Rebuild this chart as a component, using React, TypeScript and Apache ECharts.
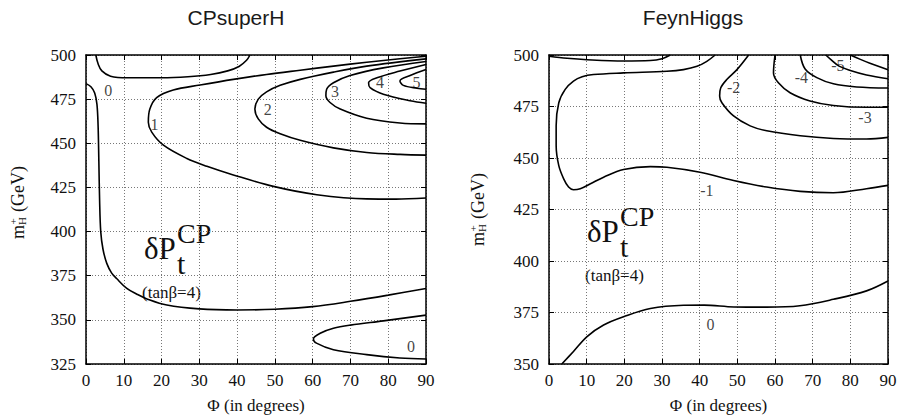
import React, { useEffect, useRef } from "react";
import * as echarts from "echarts";

const SERIF = "'Liberation Serif', 'Times New Roman', serif";
const SANS = "'Liberation Sans', Arial, sans-serif";

// ---- Axis ranges / ticks ----
const phiMin = 0;
const phiMax = 90;
const phiStep = 10;
const leftMassMin = 325;
const rightMassMin = 350;
const massMax = 500;
const massStep = 25;
const panelTitles = ["CPsuperH", "FeynHiggs"];
const xTitle = "Φ (in degrees)";

// ---- CPsuperH contours [phi, mH+] ----
const cpZeroTop = [[2.6,500],[3.2,495],[4.2,491],[6.5,488],[11,487.1],[20,487.1],[27,487.7],[33,489],[37.5,491],[40.5,493.5],[42.5,497],[43.4,500]];
const cpZeroLeft = [[0,483.8],[1.3,482],[2.3,478.5],[2.9,472],[3.2,460],[3.4,440],[3.6,418],[3.9,400],[4.5,390],[5.5,382],[6.8,376.5],[8.1,373.4],[10.8,367.8],[13.5,364.5],[16,362],[21.4,358.4],[30,356.2],[40,355.6],[50,356],[60,357.5],[70,360.5],[80,364],[90,367.8]];
const cpZeroBottom = [[90,352.7],[78.7,349.4],[70,347],[65.5,345.2],[62,342.4],[60.2,339.2],[61,336.8],[65.5,333.1],[74.3,330.3],[83.1,328.4],[90,327.8]];
const cpOne = [[90,499.3],[83.1,497.9],[74.3,495.9],[65.5,493.7],[56.7,491.4],[47.8,489],[39,486.2],[30.2,483],[23.1,480.2],[18.7,475.9],[16.9,469.4],[16.5,461.9],[17.4,456.3],[20.5,448.9],[26.7,441.4],[32,437],[39,432.1],[49.6,425.6],[61.1,420.9],[74.3,418.5],[82,418.4],[90,419]];
const cpTwo = [[90,497.8],[74.3,493.7],[65.5,490.3],[56.7,486.2],[51.4,482.8],[47.8,479.1],[45.6,475],[44.7,469.4],[45.6,463.8],[47.8,459.1],[51.4,455.4],[56.7,451.7],[65.5,447.4],[74.3,444.8],[83.1,443.7],[90,443.3]];
const cpThree = [[90,496.3],[78.7,492.7],[69.9,488.4],[65.5,484.3],[63.7,480.6],[63.5,476.9],[64.6,473.1],[67.3,469.4],[74.3,464.2],[83.1,461.5],[90,461]];
const cpFour = [[90,494.6],[83.1,490.9],[77,487.1],[74.8,484.3],[75.2,481.5],[78.7,477.8],[85.8,474.1],[90,472.7]];
const cpFive = [[90,491.8],[85.8,488.4],[83.1,485.3],[84,482.8],[87.6,481.2],[90,480.6]];
const cpLabels = [[5.9,479.7,"0"],[18.1,460.4,"1"],[48.1,469.4,"2"],[65.9,479.1,"3"],[77.8,484.7,"4"],[87.5,484.3,"5"],[86,334.9,"0"]];

// ---- FeynHiggs contours [phi, mH+] ----
const fhTopEdge = [[0,499.4],[4.8,498.4],[10.1,497.7],[19.8,497.1],[26.9,497.3],[30,498.2],[32.2,500]];
const fhMinusOne = [[44.1,500],[41.9,496.9],[39.3,494.5],[35.7,492.9],[31.3,492.1],[19.8,491.3],[11.8,490.5],[8.8,489.4],[6.5,487.3],[4.3,483.3],[2.6,476.8],[1.9,465.6],[1.9,456],[2.6,446.3],[3.9,439.9],[5.2,435.9],[6.5,434.6],[8.3,435.1],[11,437.5],[14.5,440.7],[19.8,444.4],[26.9,445.8],[31.3,445.5],[40.1,443.1],[49,439.1],[57.8,435.9],[66.7,433.8],[75.5,433.1],[84.3,435.1],[90,436.7]];
const fhMinusTwo = [[53,500],[49.9,492.9],[47.2,488.1],[45.6,484.1],[45.3,480.1],[45.9,476.8],[49,470.4],[53.4,465.6],[57.8,463.2],[66.7,460.8],[75.5,459.5],[84.3,459.2],[90,460]];
const fhMinusThree = [[60,500],[59.6,491.3],[60.9,486.5],[64,481.7],[69.3,477.7],[75.5,475.5],[84.3,474.6],[90,474.6]];
const fhMinusFour = [[66.7,500],[68,493.2],[71.1,489],[75.5,486],[81.7,484.5],[90,484]];
const fhMinusFive = [[73.5,500],[75,497.5],[77,494.6],[80,492.5],[84.3,490.3],[90,488.5]];
const fhMinusSix = [[80,500],[82.5,498],[85.2,496],[90,492.8]];
const fhZero = [[3.4,350],[6.5,356.1],[10.1,363.3],[14.5,368.9],[19.8,372.9],[26.9,376.9],[35.7,378.5],[41.2,378.6],[49.1,377.7],[57.8,377.6],[66.6,378.3],[75.5,381.4],[84.3,385.5],[90,390.3]];
const fhLabels = [[41.9,434.2,"-1"],[49,484.1,"-2"],[83.9,469.6,"-3"],[67,489,"-4"],[76.7,494.7,"-5"],[42.9,369.2,"0"]];

const leftContours = [cpZeroTop, cpZeroLeft, cpZeroBottom, cpOne, cpTwo, cpThree, cpFour, cpFive];
const rightContours = [fhTopEdge, fhMinusOne, fhMinusTwo, fhMinusThree, fhMinusFour, fhMinusFive, fhMinusSix, fhZero];

function xAxes(gi: number) {
  const common = {
    gridIndex: gi, type: "value", min: phiMin, max: phiMax, interval: phiStep,
    axisLine: { show: true, onZero: false, lineStyle: { color: "#000", width: 1.5 } },
    axisTick: { show: true, inside: true, length: 5, lineStyle: { color: "#000", width: 1 } },
  };
  return [
    {
      ...common, position: "bottom",
      axisLabel: { fontFamily: SERIF, fontSize: 17, color: "#111", margin: 8 },
      splitLine: { show: true, lineStyle: { type: [1, 2], color: "#777", width: 1 } },
      name: xTitle, nameLocation: "middle", nameGap: 33,
      nameTextStyle: { fontFamily: SERIF, fontSize: 17, color: "#111" },
    },
    { ...common, position: "top", axisLabel: { show: false }, splitLine: { show: false } },
  ];
}

function yAxes(gi: number, min: number) {
  const common = {
    gridIndex: gi, type: "value", min, max: massMax, interval: massStep,
    axisLine: { show: true, onZero: false, lineStyle: { color: "#000", width: 1.5 } },
    axisTick: { show: true, inside: true, length: 5, lineStyle: { color: "#000", width: 1 } },
  };
  return [
    {
      ...common, position: "left",
      axisLabel: { fontFamily: SERIF, fontSize: 17, color: "#111", margin: 10 },
      splitLine: { show: true, lineStyle: { type: [1, 2], color: "#777", width: 1 } },
    },
    { ...common, position: "right", axisLabel: { show: false }, splitLine: { show: false } },
  ];
}

function lineSeries(data: number[][], axisIdx: number) {
  return {
    type: "line", xAxisIndex: axisIdx, yAxisIndex: axisIdx, data,
    showSymbol: false, symbol: "none", smooth: 0.35, clip: true,
    lineStyle: { color: "#000", width: 1.6 }, silent: true,
  };
}

function labelSeries(data: any[], axisIdx: number) {
  return {
    type: "scatter", xAxisIndex: axisIdx, yAxisIndex: axisIdx, data,
    symbolSize: 1, itemStyle: { color: "rgba(0,0,0,0)" }, silent: true,
    label: {
      show: true, position: "inside", formatter: (p: any) => p.data[2],
      fontFamily: SERIF, fontSize: 16, color: "#111",
    },
  };
}

function yTitle(x: number, y: number) {
  return {
    type: "group", x, y, rotation: Math.PI / 2,
    children: [
      { type: "text", x: -38, y: -6, style: { text: "m", font: `18px ${SERIF}`, fill: "#111", align: "left", verticalAlign: "middle" } },
      { type: "text", x: -24, y: -2, style: { text: "H", font: `11px ${SERIF}`, fill: "#111", align: "left", verticalAlign: "middle" } },
      { type: "text", x: -23.5, y: -11, style: { text: "+", font: `11px ${SERIF}`, fill: "#111", align: "left", verticalAlign: "middle" } },
      { type: "text", x: -11, y: -6, style: { text: "(GeV)", font: `18px ${SERIF}`, fill: "#111", align: "left", verticalAlign: "middle" } },
    ],
  };
}

function deltaLabel(x: number, y: number) {
  return {
    type: "group", x, y,
    children: [
      { type: "text", x: 0, y: -10.5, style: { text: "δP", font: `31px ${SERIF}`, fill: "#111", align: "left", verticalAlign: "middle" } },
      { type: "text", x: 33, y: -25.2, style: { text: "CP", font: `28px ${SERIF}`, fill: "#111", align: "left", verticalAlign: "middle" } },
      { type: "text", x: 33, y: 4, style: { text: "t", font: `30px ${SERIF}`, fill: "#111", align: "left", verticalAlign: "middle" } },
      { type: "text", x: -2, y: 33, style: { text: "(tanβ=4)", font: `17px ${SERIF}`, fill: "#111", align: "left", verticalAlign: "middle" } },
    ],
  };
}

export default function App() {
  const ref = useRef<HTMLDivElement>(null);
  useEffect(() => {
    const chart = echarts.init(ref.current!, null, { renderer: "svg" });
    const option: any = {
      animation: false,
      backgroundColor: "#fff",
      grid: [
        { left: 86, right: 474, top: 55, bottom: 53, containLabel: false },
        { left: 549, right: 12, top: 55, bottom: 53, containLabel: false },
      ],
      xAxis: [...xAxes(0), ...xAxes(1)],
      yAxis: [...yAxes(0, leftMassMin), ...yAxes(1, rightMassMin)],
      series: [
        ...leftContours.map((c) => lineSeries(c, 0)),
        labelSeries(cpLabels, 0),
        ...rightContours.map((c) => lineSeries(c, 2)),
        labelSeries(fhLabels, 2),
      ],
      graphic: [
        { type: "text", x: 236, y: 17.5, style: { text: panelTitles[0], font: `21px ${SANS}`, fill: "#1a1a1a", align: "center", verticalAlign: "middle" } },
        { type: "text", x: 693, y: 17.5, style: { text: panelTitles[1], font: `21px ${SANS}`, fill: "#1a1a1a", align: "center", verticalAlign: "middle" } },
        yTitle(24, 201),
        yTitle(484, 208),
        deltaLabel(144, 259),
        deltaLabel(587, 242),
      ],
    };
    chart.setOption(option);
    return () => chart.dispose();
  }, []);
  return <div ref={ref} style={{ position: "fixed", left: 0, top: 0, width: 900, height: 419 }} />;
}
